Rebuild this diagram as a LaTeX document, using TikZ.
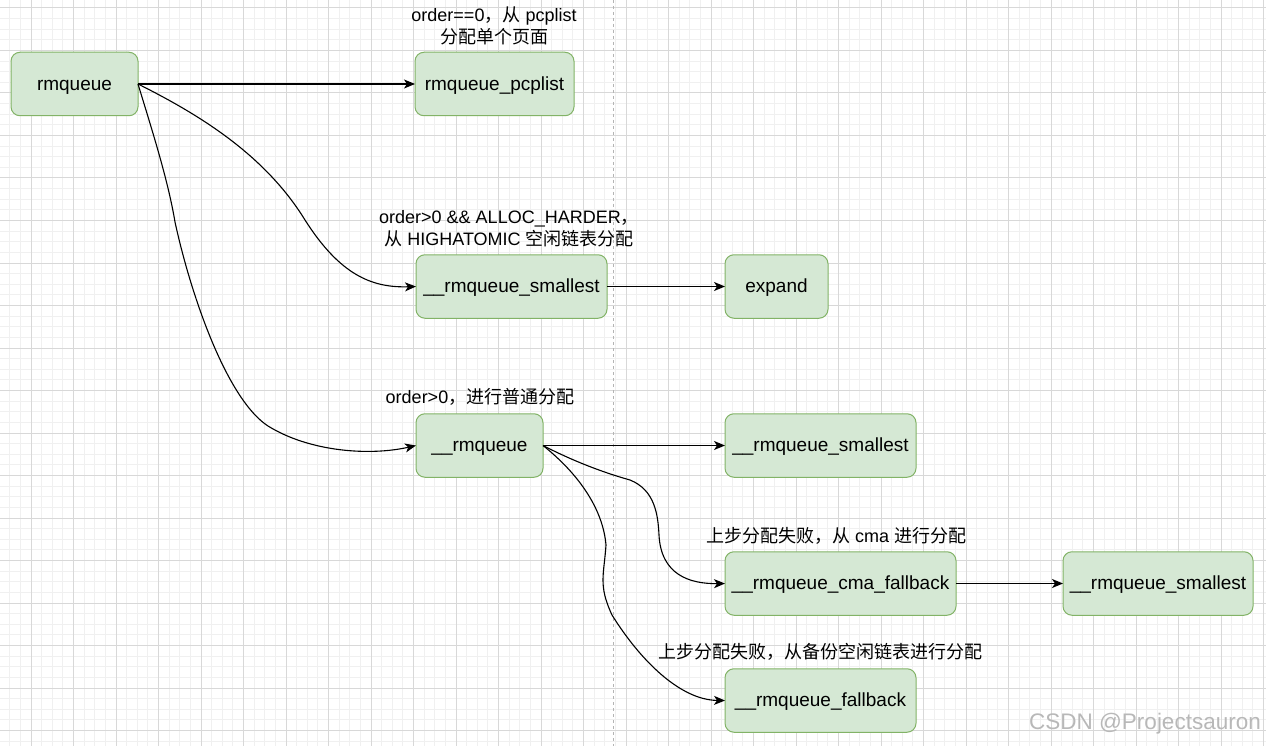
\documentclass[tikz,border=0pt]{standalone}
\usepackage{fontspec}
\setmainfont{Liberation Sans}
\newfontfamily\cjk{Noto Sans CJK SC}
\usetikzlibrary{arrows.meta}
\definecolor{boxfill}{HTML}{D5E8D4}
\definecolor{boxline}{HTML}{82B366}
\definecolor{gridminor}{HTML}{F0F0F0}
\definecolor{gridmajor}{HTML}{D8D8D8}
\definecolor{sepline}{HTML}{B4B4B4}
\definecolor{wmark}{HTML}{B8B8B8}
\begin{document}
\begin{tikzpicture}[x=1pt,y=-1pt,
  box/.style={draw=boxline,fill=boxfill,line width=1pt,rounded corners=9pt,
    minimum height=63.5pt,inner sep=0pt,outer sep=0pt,
    text height=14.5pt,text depth=1.7pt,
    font=\fontsize{19}{22}\selectfont},
  lbl/.style={align=center,font=\fontsize{18}{22}\selectfont,inner sep=0pt},
  conn/.style={line width=1.1pt,-{Stealth[length=11pt,width=9pt,inset=3pt]}},
  minorg/.style={draw=gridminor,line width=1pt},
  majorg/.style={draw=gridmajor,line width=1pt},
  ]
\useasboundingbox (0,0) rectangle (1266,746);
\fill[white] (0,0) rectangle (1266,746);
% grid
\foreach \i in {0,...,120} {
  \draw[minorg] ({-0.875+10.625*\i},0) -- ({-0.875+10.625*\i},746);
}
\foreach \i in {0,...,71} {
  \draw[minorg] (0,{-2.625+10.625*\i}) -- (1266,{-2.625+10.625*\i});
}
\foreach \i in {0,...,30} {
  \draw[majorg] ({-11.5+42.5*\i},0) -- ({-11.5+42.5*\i},746);
}
\foreach \i in {0,...,18} {
  \draw[majorg] (0,{8+42.5*\i}) -- (1266,{8+42.5*\i});
}
% separator
\draw[sepline,line width=1pt,dash pattern=on 3pt off 3pt] (613.5,0) -- (613.5,746);

% nodes
\node[box,minimum width=127pt] (rmq) at (74.5,84) {rmqueue};
\node[box,minimum width=159pt] (pcp) at (494.5,84) {rmqueue\_pcplist};
\node[box,minimum width=191pt] (sm1) at (511.5,286.5) {\_\_rmqueue\_smallest};
\node[box,minimum width=103pt] (exp) at (776.5,286.5) {expand};
\node[box,minimum width=127pt] (rmqb) at (479.5,445.5) {\_\_rmqueue};
\node[box,minimum width=191pt] (sm2) at (820.5,445.5) {\_\_rmqueue\_smallest};
\node[box,minimum width=231pt] (cma) at (840.5,583.5) {\_\_rmqueue\_cma\_fallback};
\node[box,minimum width=190pt] (sm3) at (1158,583.5) {\_\_rmqueue\_smallest};
\node[box,minimum width=191pt] (fb) at (820.5,700.5) {\_\_rmqueue\_fallback};

% labels
\node[lbl] (l1) at (494,26) {order==0{\cjk ，从} pcplist\\{\cjk 分配单个页面}};
\node[lbl] (l2) at (509,228.5) {order>0 \&\& ALLOC\_HARDER{\cjk ，}\\{\cjk 从} HIGHATOMIC {\cjk 空闲链表分配}};
\node[lbl] (l3) at (480,397) {order>0{\cjk ，进行普通分配}};
\node[lbl] (l4) at (836,536) {{\cjk 上步分配失败，从} cma {\cjk 进行分配}};
\node[lbl] (l5) at (820,652) {{\cjk 上步分配失败，从备份空闲链表进行分配}};

% connectors
\draw[conn] (rmq.east) -- (pcp.west);
\draw[conn] (rmq.east) .. controls (200,115) and (265,155) .. (305,220)
  .. controls (340,275) and (372,288) .. (sm1.west);
\draw[conn] (rmq.east) .. controls (152,130) and (168,180) .. (175,222)
  .. controls (192,300) and (228,400) .. (268,426)
  .. controls (310,452) and (370,456) .. (rmqb.west);
\draw[conn] (sm1.east) -- (exp.west);
\draw[conn] (rmqb.east) -- (sm2.west);
\draw[conn] (rmqb.east) .. controls (575,462) and (605,473) .. (630,480)
  .. controls (655,490) and (658,515) .. (659,535)
  .. controls (661,575) and (690,584) .. (cma.west);
\draw[conn] (cma.east) -- (sm3.west);
\draw[conn] (rmqb.east) .. controls (580,475) and (603,510) .. (606,545)
  .. controls (604,575) and (598,585) .. (612,615)
  .. controls (640,660) and (680,700) .. (fb.west);

% watermark
\node[font=\fontsize{22.5}{26}\selectfont,text=wmark,inner sep=0pt] (wm) at (1145,724) {CSDN @Projectsauron};
\end{tikzpicture}
\end{document}
